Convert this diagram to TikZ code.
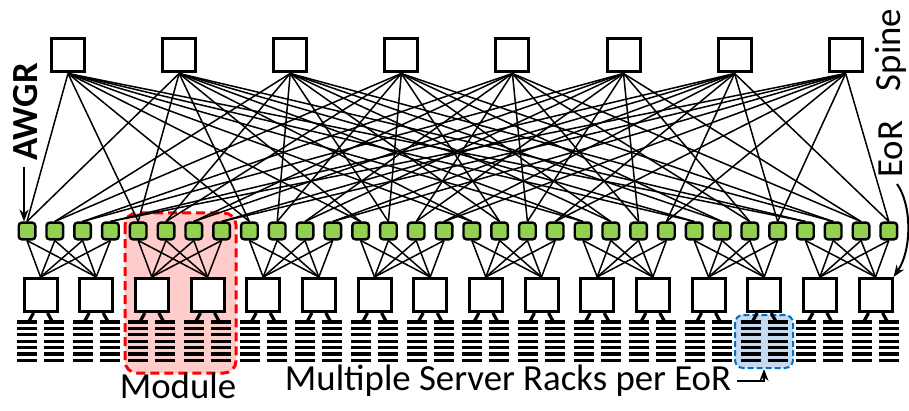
\documentclass[tikz,border=0pt]{standalone}
\usepackage{fontspec}
\setmainfont{Carlito}
\usetikzlibrary{arrows.meta}
\definecolor{awgrgreen}{RGB}{146,208,80}
\definecolor{modred}{RGB}{255,0,0}
\definecolor{modfill}{RGB}{255,204,204}
\definecolor{rackblue}{RGB}{0,112,192}
\definecolor{rackfill}{RGB}{197,217,241}
\tikzset{
  switchbox/.style={draw, line width=1.5pt, fill=white, minimum size=16.5pt, inner sep=0pt},
  awgr/.style={draw, line width=1.2pt, fill=awgrgreen, rounded corners=1.5pt, minimum size=8.3pt, inner sep=0pt},
  link/.style={line width=0.75pt},
  rack/.style={line width=1.6pt},
  modbox/.style={draw=modred, fill=modfill, line width=1.5pt, dash pattern=on 4.5pt off 2.5pt, rounded corners=6pt},
  rackbox/.style={draw=rackblue, fill=rackfill, line width=1pt, dash pattern=on 3pt off 1.5pt, rounded corners=4pt},
  pointer/.style={line width=1pt, -{Stealth[length=6pt,width=4.5pt]}},
  lbltext/.style={font=\fontsize{18.4}{21}\selectfont, inner sep=0pt},
}
\begin{document}
\begin{tikzpicture}[x=0.5pt,y=-0.5pt]
  \useasboundingbox (0,0) rectangle (909,411);
  % highlighted module and racks
  \draw[modbox] (125,213) rectangle (236,373);
  \draw[rackbox] (735,315) rectangle (793,368);
  % spine switches
  \foreach \i in {0,...,7}
    \node[switchbox] (s\i) at (68+111.1*\i,55.5) {};
  % awgrs
  \foreach \k in {0,...,31}
    \node[awgr] (a\k) at (27+27.8*\k,231) {};
  % eor switches
  \foreach \j in {0,...,15}
    \node[switchbox] (e\j) at (40.5+55.67*\j,295) {};
  % server racks
  \foreach \j in {0,...,15} {
    \foreach \d in {-1,1} {
      \foreach \r in {0,...,6}
        \draw[rack] (40.5+55.67*\j+\d*3.5,322+6.4*\r) -- (40.5+55.67*\j+\d*23.5,322+6.4*\r);
      \draw[rack] ([xshift=\d*3.5pt]e\j.south) -- (40.5+55.67*\j+\d*12,322);
    }
  }
  % links
  \foreach \m in {0,...,7}
    \foreach \p in {0,...,3} {
      \pgfmathtruncatemacro{\k}{4*\m+\p}
      \pgfmathtruncatemacro{\spa}{2*\p}
      \pgfmathtruncatemacro{\spb}{2*\p+1}
      \draw[link] (s\spa.south) -- (a\k.north);
      \draw[link] (s\spb.south) -- (a\k.north);
      \foreach \q in {0,1} {
        \pgfmathtruncatemacro{\j}{2*\m+\q}
        \draw[link] (a\k.south) -- (e\j.north);
      }
    }
  % labels
  \node[lbltext] (modlbl) at (178,386) {Module};
  \node[lbltext] (multlbl) at (508,381) {Multiple Server Racks per EoR};
  \coordinate (rackpt) at (764,369);
  \draw[pointer] ([xshift=3pt]multlbl.east) -| (rackpt);
  \node[lbltext, rotate=90] (awgrlbl) at (26,112) {\bfseries AWGR};
  \coordinate (awgrtail) at (24,167);
  \draw[pointer] (awgrtail) -- (awgrtail |- a0.north);
  \node[lbltext, rotate=90] (spinelbl) at (891,50) {Spine};
  \node[lbltext, rotate=90] (eorlbl) at (891,149) {EoR};
  \coordinate (eortail) at (897,184);
  \draw[pointer] (eortail) .. controls (912,205) and (912,250) .. (e15.north east);
\end{tikzpicture}
\end{document}
